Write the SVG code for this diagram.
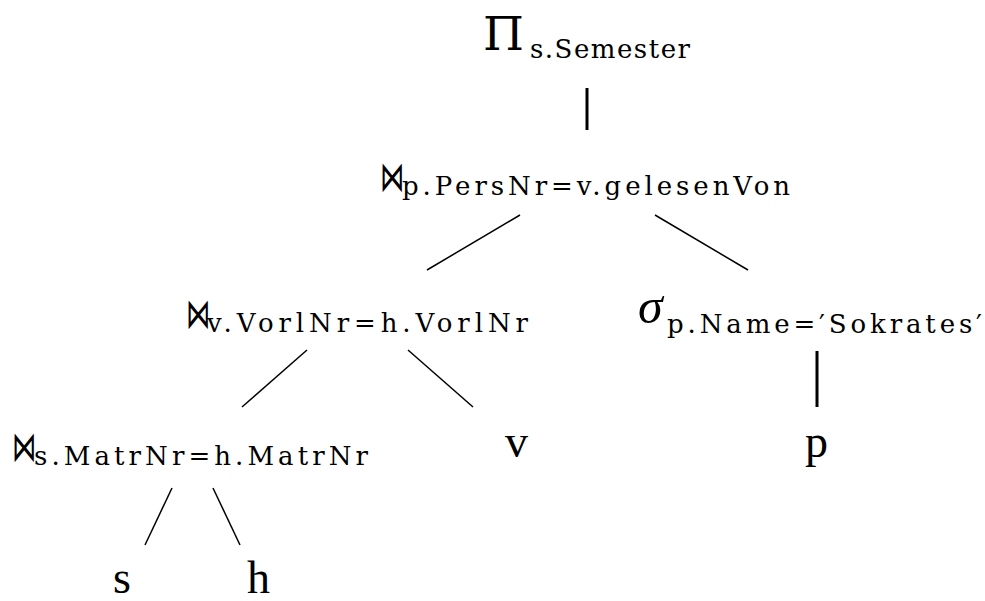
<svg xmlns="http://www.w3.org/2000/svg" width="985" height="601" viewBox="0 0 985 601">
  <style>
    text { font-family: "DejaVu Serif", "Liberation Serif", serif; fill: #000; }
    .op { font-size: 47px; }
    .sigma { font-family: "Liberation Serif", "DejaVu Serif", serif; font-size: 50px; font-style: italic; }
    .sym { font-family: "DejaVu Sans", "DejaVu Serif", sans-serif; font-size: 42px; font-weight: 200; }
    .sub { font-size: 26px; }
    .leaf { font-family: "Liberation Serif", "DejaVu Serif", serif; font-size: 46px; }
    .edge { stroke: #000; stroke-width: 1.5; fill: none; }
    .unary { stroke: #000; stroke-width: 3; fill: none; }
  </style>
  <rect width="985" height="601" fill="#fff"/>

  <g id="connectors">
    <line class="unary" x1="587" y1="88" x2="587" y2="130"/>
    <line class="edge" x1="520" y1="215" x2="427" y2="270"/>
    <line class="edge" x1="655" y1="215" x2="748" y2="270"/>
    <line class="edge" x1="307" y1="350" x2="242" y2="407"/>
    <line class="edge" x1="408" y1="350" x2="473" y2="407"/>
    <line class="unary" x1="817" y1="351" x2="817" y2="407"/>
    <line class="edge" x1="172" y1="488" x2="145" y2="545"/>
    <line class="edge" x1="213" y1="488" x2="240" y2="545"/>
  </g>

  <g id="project">
    <text class="op" x="483" y="50">Π</text>
    <text class="sub" x="530" y="58" textLength="160">s.Semester</text>
  </g>

  <g id="join-pers">
    <text class="sym" transform="translate(380,191) scale(0.58,1)">⋈</text>
    <text class="sub" x="402" y="195" textLength="388">p.PersNr=v.gelesenVon</text>
  </g>

  <g id="join-vorl">
    <text class="sym" transform="translate(186,328) scale(0.58,1)">⋈</text>
    <text class="sub" x="207" y="332" textLength="321">v.VorlNr=h.VorlNr</text>
  </g>

  <g id="select">
    <text class="sigma" x="638" y="323">σ</text>
    <text class="sub" x="667" y="333" textLength="315">p.Name=′Sokrates′</text>
  </g>

  <g id="join-matr">
    <text class="sym" transform="translate(12,461) scale(0.58,1)">⋈</text>
    <text class="sub" x="34" y="465" textLength="334">s.MatrNr=h.MatrNr</text>
  </g>

  <g id="rel-v"><text class="leaf" x="505" y="457">v</text></g>
  <g id="rel-p"><text class="leaf" x="805" y="457">p</text></g>
  <g id="rel-s"><text class="leaf" x="113" y="593">s</text></g>
  <g id="rel-h"><text class="leaf" x="247" y="593">h</text></g>
</svg>
